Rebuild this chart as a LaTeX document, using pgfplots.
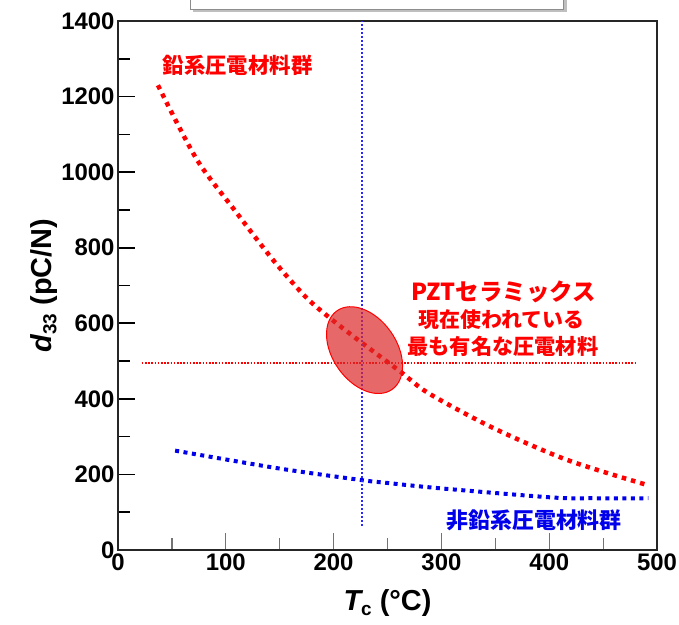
\documentclass[border=0pt]{standalone}
\usepackage{fontspec}
\setmainfont{Liberation Sans}
\newfontfamily\jp{Noto Sans CJK JP}
\usepackage{pgfplots}
\pgfplotsset{compat=1.18}
\usetikzlibrary{shapes.geometric}
\definecolor{myred}{RGB}{255,0,0}
\definecolor{myblue}{RGB}{0,0,235}
\definecolor{lineblue}{RGB}{40,40,255}
\definecolor{ellfill}{RGB}{220,40,40}
\begin{document}
\begin{tikzpicture}
\begin{axis}[
  scale only axis, width=539bp, height=529bp,
  xmin=0, xmax=500, ymin=0, ymax=1400,
  xtick={0,100,...,500}, ytick={0,200,...,1400},
  minor x tick num=1, minor y tick num=1,
  tick align=inside, xtick pos=bottom, ytick pos=left,
  major tick length=17bp, minor tick length=12bp,
  xtick style={draw=black!55, line width=1.2bp},
  ytick style={draw=black, line width=1.6bp},
  axis line style={draw=black!85, line width=1.6bp},
  tick label style={font=\fontsize{24}{27}\selectfont\bfseries},
  /pgf/number format/assume math mode=true,
  /pgf/number format/1000 sep={},
  xlabel={{\bfseries\itshape T}\raisebox{-0.35ex}{\fontsize{19}{20}\selectfont\bfseries c} \bfseries(°C)},
  ylabel={{\bfseries\itshape d}\raisebox{-0.35ex}{\fontsize{19}{20}\selectfont\bfseries 33} \bfseries(pC/N)},
  xlabel style={font=\fontsize{29}{32}\selectfont, at={(axis description cs:0.5,-0.1)}, anchor=center},
  ylabel style={font=\fontsize{29}{32}\selectfont, at={(axis description cs:-0.138,0.5)}, anchor=center},
  clip=false,
]
% lead-based group
\addplot[myred, line width=4.5bp, dash pattern=on 4.5bp off 5bp, smooth] coordinates {
  (37,1230) (73,1034) (108,900) (144,767) (174,670) (197,613) (225,551)
  (262,472) (288,415) (348,323) (417,238) (491,172)};
% lead-free group
\addplot[myblue, line width=4bp, dash pattern=on 4bp off 4.5bp, smooth] coordinates {
  (53,263) (149,216) (226,185) (248,178) (300,163) (403,139) (440,137) (492,137)};
% guide lines
\addplot[draw=lineblue, line width=2bp, dash pattern=on 2bp off 2bp] coordinates {(226,63) (226,1400)};
\addplot[draw=myred, line width=1.6bp, dash pattern=on 1.6bp off 1.6bp] coordinates {(22,495) (482,495)};
% PZT ellipse
\node[ellipse, draw=myred, line width=1bp, fill=ellfill, fill opacity=0.7,
      minimum width=64bp, minimum height=96bp, inner sep=0pt, rotate=35]
      at (axis cs:228.7,529) {};
% labels
\node[text=myred, font=\jp\bfseries\fontsize{21.5}{24}\selectfont] at (axis cs:111,1283) {鉛系圧電材料群};
\node[text=myred, font=\jp\bfseries\fontsize{23.5}{26}\selectfont] at (axis cs:357.6,683) {PZTセラミックス};
\node[text=myred, font=\jp\bfseries\fontsize{21}{24}\selectfont] at (axis cs:356,609) {現在使われている};
\node[text=myred, font=\jp\bfseries\fontsize{21.3}{24}\selectfont] at (axis cs:357,538) {最も有名な圧電材料};
\node[text=myblue, font=\jp\bfseries\fontsize{22}{24}\selectfont] at (axis cs:386,79) {非鉛系圧電材料群};
\end{axis}
% partially visible title box
\fill[black!25] ([shift={(75bp,9bp)}]current axis.north west) rectangle ([shift={(449bp,60bp)}]current axis.north west);
\draw[black!45, fill=white] ([shift={(72bp,12bp)}]current axis.north west) rectangle ([shift={(445bp,60bp)}]current axis.north west);
\pgfresetboundingbox
\useasboundingbox ([shift={(-118bp,-74bp)}]current axis.south west) rectangle ([shift={(22bp,21bp)}]current axis.north east);
\end{tikzpicture}
\end{document}
